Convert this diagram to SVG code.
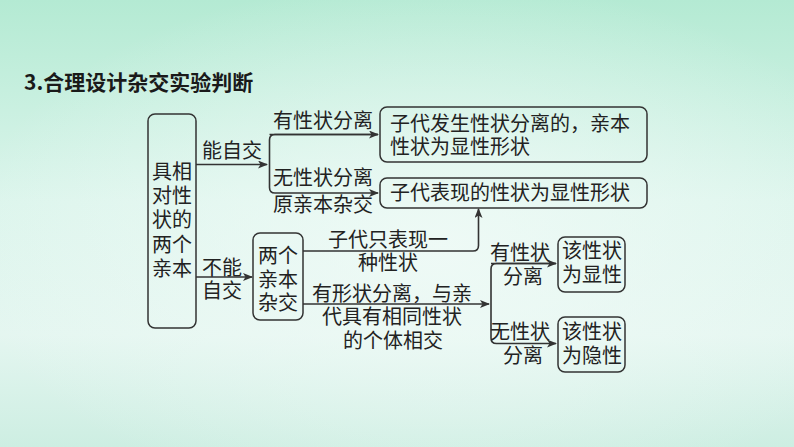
<svg xmlns="http://www.w3.org/2000/svg" width="794" height="447" viewBox="0 0 794 447">
<defs>
<linearGradient id="bg" x1="0" y1="0" x2="0" y2="1">
<stop offset="0" stop-color="#b4ead3"/>
<stop offset="0.45" stop-color="#dcf5ec"/>
<stop offset="0.75" stop-color="#e4f6f0"/>
<stop offset="1" stop-color="#cdeee2"/>
</linearGradient>
<radialGradient id="glow" cx="0.55" cy="0.55" r="0.6">
<stop offset="0" stop-color="#f2fbf8" stop-opacity="0.8"/>
<stop offset="1" stop-color="#f2fbf8" stop-opacity="0"/>
</radialGradient>
<marker id="ah" markerWidth="10" markerHeight="8" refX="9" refY="4" orient="auto" markerUnits="userSpaceOnUse">
<path d="M0,0 L10,4 L0,8 L2.5,4 z" fill="#333"/>
</marker>
</defs>
<style>
.t{font-family:"Noto Sans CJK SC","Noto Sans",sans-serif;font-size:20px;fill:#222}
.title{font-family:"Noto Sans CJK SC","Noto Sans",sans-serif;font-size:21px;font-weight:bold;fill:#1a1a1a}
.box{fill:none;stroke:#333;stroke-width:1.5}
.ln{fill:none;stroke:#333;stroke-width:1.6}
</style>
<rect width="794" height="447" fill="url(#bg)"/>
<rect width="794" height="447" fill="url(#glow)"/>
<text class="title" x="24" y="90">3.合理设计杂交实验判断</text>

<g id="connectors">
<path class="ln" d="M196,164.5 H267" marker-end="url(#ah)"/>
<path class="ln" d="M378,134.5 H275 Q269.5,134.5 269.5,140 V187.5 Q269.5,193 275,193 H378" marker-end="url(#ah)"/>
<path class="ln" d="M269.5,134.5 H378" marker-end="url(#ah)"/>
<path class="ln" d="M196,277 H252" marker-end="url(#ah)"/>
<path class="ln" d="M303,251 H473 Q478.5,251 478.5,245.5 V209" marker-end="url(#ah)"/>
<path class="ln" d="M303,304 H489" marker-end="url(#ah)"/>
<path class="ln" d="M556,263.5 H496.5 Q491,263.5 491,269 V338 Q491,343.5 496.5,343.5 H556" marker-end="url(#ah)"/>
<path class="ln" d="M491,263.5 H556" marker-end="url(#ah)"/>
<text class="t" x="202" y="158">能自交</text>
<text class="t" x="273" y="128">有性状分离</text>
<text class="t" x="273" y="185">无性状分离</text>
<text class="t" x="273" y="212">原亲本杂交</text>
<text class="t" x="202" y="275">不能</text>
<text class="t" x="202" y="298">自交</text>
<text class="t" x="328" y="247">子代只表现一</text>
<text class="t" x="358" y="270">种性状</text>
<text class="t" x="312" y="301">有形状分离，与亲</text>
<text class="t" x="322" y="324">代具有相同性状</text>
<text class="t" x="343" y="348">的个体相交</text>
<text class="t" x="490" y="260">有性状</text>
<text class="t" x="503" y="284">分离</text>
<text class="t" x="490" y="339">无性状</text>
<text class="t" x="503" y="363">分离</text>
</g>

<g id="parents">
<rect class="box" x="148" y="114" width="48" height="214" rx="7"/>
<text class="t" x="152" y="179">具相</text>
<text class="t" x="152" y="203">对性</text>
<text class="t" x="152" y="227">状的</text>
<text class="t" x="152" y="252">两个</text>
<text class="t" x="152" y="276">亲本</text>
</g>

<g id="self-yes">
<rect class="box" x="380" y="107" width="267" height="55" rx="7"/>
<text class="t" x="390" y="131">子代发生性状分离的，亲本</text>
<text class="t" x="390" y="154">性状为显性形状</text>
</g>

<g id="self-no">
<rect class="box" x="380" y="178" width="267" height="30" rx="7"/>
<text class="t" x="390" y="200">子代表现的性状为显性形状</text>
</g>

<g id="cross">
<rect class="box" x="253" y="233" width="50" height="87" rx="7"/>
<text class="t" x="258" y="263">两个</text>
<text class="t" x="258" y="287">亲本</text>
<text class="t" x="258" y="310">杂交</text>
</g>

<g id="dominant">
<rect class="box" x="558" y="237" width="67" height="55" rx="7"/>
<text class="t" x="562" y="258">该性状</text>
<text class="t" x="562" y="282">为显性</text>
</g>

<g id="recessive">
<rect class="box" x="558" y="317" width="67" height="55" rx="7"/>
<text class="t" x="562" y="339">该性状</text>
<text class="t" x="562" y="363">为隐性</text>
</g>
</svg>
